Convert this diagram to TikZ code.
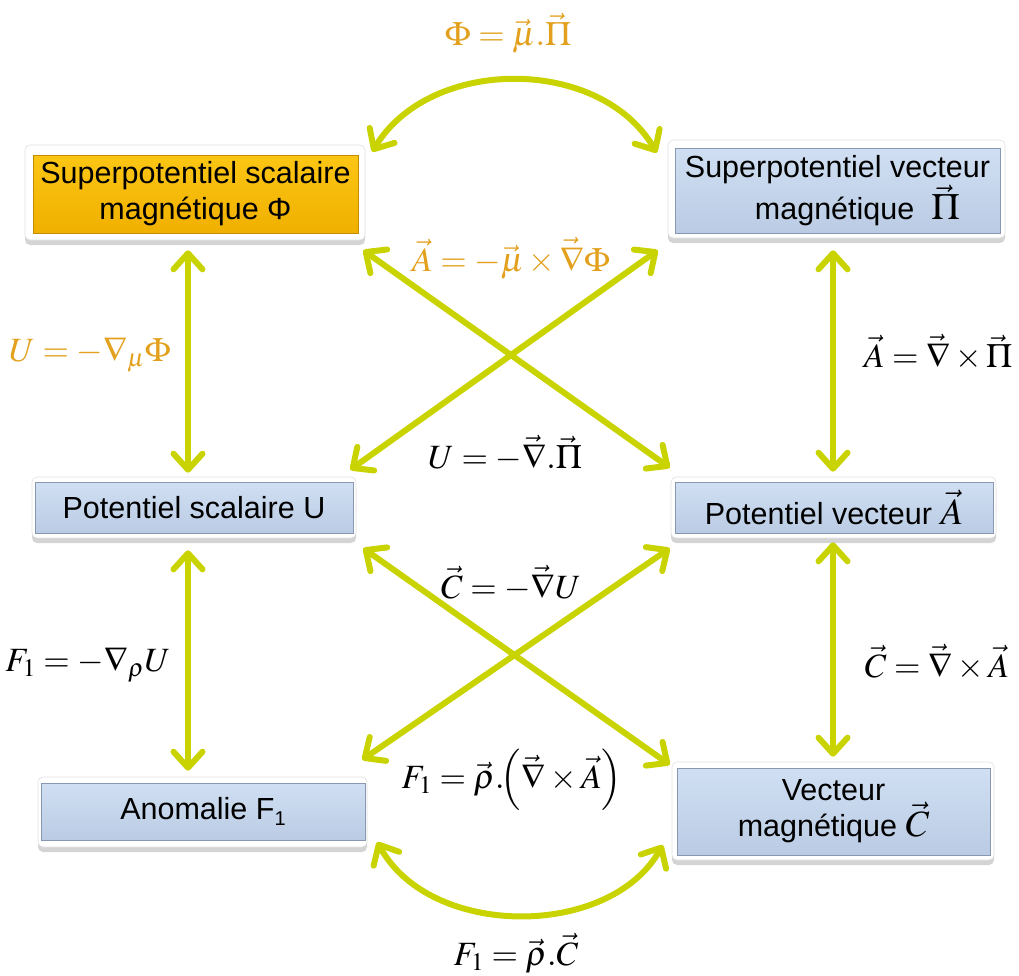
\documentclass[tikz,border=0pt]{standalone}
\usepackage{mathptmx}
\usepackage[no-math]{fontspec}
\setmainfont{Liberation Sans}
\usetikzlibrary{arrows.meta,shadows,calc}
\definecolor{arrowc}{RGB}{200,211,0}
\definecolor{eqor}{RGB}{226,160,28}
\definecolor{bluetop}{RGB}{208,223,242}
\definecolor{bluebot}{RGB}{186,203,228}
\definecolor{blueedge}{RGB}{135,152,176}
\definecolor{goldtop}{RGB}{252,198,20}
\definecolor{goldbot}{RGB}{240,176,0}
\definecolor{goldedge}{RGB}{196,138,0}
\newcommand{\bigmath}[1]{{\fontsize{37}{36}\selectfont$#1$}}
\tikzset{
  frame/.style={fill=white, draw=black!12, line width=0.6pt, rounded corners=5pt, inner sep=0pt,
    drop shadow={shadow xshift=0pt, shadow yshift=-5pt, opacity=0.28, fill=black!60}},
  bluebox/.style={top color=bluetop, bottom color=bluebot, draw=blueedge, line width=1pt,
    inner sep=0pt, align=center, font=\fontsize{30.5}{36}\selectfont},
  goldbox/.style={top color=goldtop, bottom color=goldbot, draw=goldedge, line width=1pt,
    inner sep=0pt, align=center, font=\fontsize{30.5}{36}\selectfont},
  conn/.style={draw=arrowc, line width=6pt,
    {Straight Barb[length=16pt,width=29pt,round]}-{Straight Barb[length=16pt,width=29pt,round]}},
  eqo/.style={text=eqor, inner sep=0pt, font=\fontsize{34}{40}\selectfont},
  eqb/.style={text=black, inner sep=0pt, font=\fontsize{34}{40}\selectfont},
}
\begin{document}
\begin{tikzpicture}[x=1pt,y=-1pt]
\useasboundingbox (0,0) rectangle (1019,975);
% frames
\node[frame, minimum width=340pt, minimum height=95pt] (f-sps) at (195,192.5) {};
\node[frame, minimum width=337pt, minimum height=98pt] (f-spv) at (836.5,189) {};
\node[frame, minimum width=324pt, minimum height=61pt] (f-ps) at (194,507.5) {};
\node[frame, minimum width=325pt, minimum height=61pt] (f-pv) at (833.5,507.5) {};
\node[frame, minimum width=329pt, minimum height=70pt] (f-an) at (202.5,812) {};
\node[frame, minimum width=322pt, minimum height=98pt] (f-vm) at (833,811) {};
% boxes
\node[goldbox, minimum width=325pt, minimum height=78pt] (sps) at (195.5,194) {Superpotentiel scalaire\\magnétique Φ};
\node[bluebox, minimum width=325pt, minimum height=85pt] (spv) at (837.5,190.5) {Superpotentiel vecteur\\\hspace*{1.3em}magnétique\ \ \bigmath{\vec{\Pi}}};
\node[bluebox, minimum width=318pt, minimum height=51pt] (ps) at (194,507.5) {Potentiel scalaire U};
\node[bluebox, minimum width=318pt, minimum height=51pt] (pv) at (834,507.5) {Potentiel vecteur \bigmath{\vec{A}}};
\node[bluebox, minimum width=324pt, minimum height=57pt] (an) at (203,811.5) {Anomalie F\raisebox{-0.35ex}{\fontsize{20}{20}\selectfont 1}};
\node[bluebox, minimum width=313pt, minimum height=87pt] (vm) at (833.5,811.5) {Vecteur\\magnétique \bigmath{\vec{C}}};
% vertical connectors
\draw[conn] ($(f-sps.south)+(-7,10)$) -- ($(f-ps.north)+(-6,-4)$);
\draw[conn] ($(f-spv.south)+(-3.5,12)$) -- ($(f-pv.north)+(-0.5,-5)$);
\draw[conn] ($(f-ps.south)+(-6,12)$) -- ($(f-an.north)+(-14.5,-6)$);
\draw[conn] ($(f-pv.south)+(-0.5,4)$) -- ($(f-vm.north)+(0,-5)$);
% diagonal connectors
\draw[conn] ($(f-sps.south east)+(-2,10)$) -- ($(f-pv.north west)+(-1,-9)$);
\draw[conn] ($(f-spv.south west)+(-10,12)$) -- ($(f-ps.north east)+(-6,-7)$);
\draw[conn] ($(f-ps.south east)+(7,10)$) -- ($(f-vm.north west)+(-2,3)$);
\draw[conn] ($(f-pv.south west)+(-1,10)$) -- ($(f-an.north east)+(-5,-17)$);
% arcs
\draw[conn] ($(f-sps.north east)+(7,7)$) .. controls (430,56) and (600,56) .. ($(f-spv.north west)+(-11,13)$);
\draw[conn] ($(f-an.east)+(10,30)$) .. controls (430,939) and (610,939) .. ($(f-vm.west)+(-9,34)$);
% labels
\node[eqo] (e-phi) at (508,33) {$\Phi=\vec{\mu}.\vec{\Pi}$};
\node[eqo] (e-a1) at (511,258) {$\vec{A}=-\vec{\mu}\times\vec{\nabla}\Phi$};
\node[eqo] (e-u1) at (90,355) {$U=-\nabla_{\mu}\Phi$};
\node[eqb] (e-u2) at (505,453) {$U=-\vec{\nabla}.\vec{\Pi}$};
\node[eqb] (e-a2) at (938,352) {$\vec{A}=\vec{\nabla}\times\vec{\Pi}$};
\node[eqb] (e-c1) at (511,583) {$\vec{C}=-\vec{\nabla}U$};
\node[eqb] (e-c2) at (937,662) {$\vec{C}=\vec{\nabla}\times\vec{A}$};
\node[eqb] (e-f1) at (88,665) {$F_1=-\nabla_{\rho}U$};
\node[eqb] (e-f2) at (512,780) {$F_1=\vec{\rho}.\!\Bigl(\vec{\nabla}\times\vec{A}\Bigr)$};
\node[eqb] (e-f3) at (516,953) {$F_1=\vec{\rho}.\vec{C}$};
\end{tikzpicture}
\end{document}
